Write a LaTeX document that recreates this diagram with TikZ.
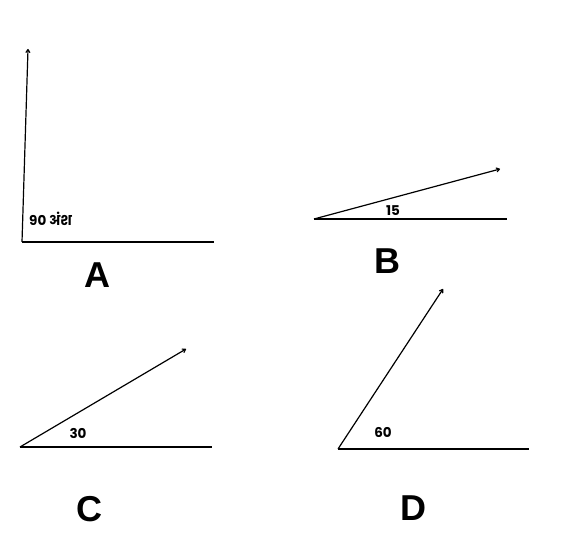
\documentclass[tikz,border=0pt]{standalone}
\usepackage{fontspec}
\setmainfont{Liberation Sans}
\newfontfamily\popb[Script=Devanagari,UprightFont=* Bold]{Poppins}
\usetikzlibrary{arrows.meta}
\begin{document}
\begin{tikzpicture}[x=1pt,y=-1pt,
  ray/.style={line width=1.2pt,-{To[length=4pt,width=5pt]}},
  base/.style={line width=1.3pt},
  lbl/.style={font=\popb\fontsize{13.5}{13.5}\selectfont,inner sep=0pt},
  big/.style={font=\fontsize{36}{36}\selectfont\bfseries,inner sep=0pt}]
\useasboundingbox (0,0) rectangle (584,548);
% A
\coordinate (Av) at (22,242);
\coordinate (Ah) at (214,242);
\coordinate (At) at (28,49);
\draw[base] (Av) -- (Ah);
\draw[ray] (Av) -- (At);
\node[lbl,anchor=west] (Al) at (29,219) {90 अंश};
\node[big] (A) at (97,275) {A};
% B
\coordinate (Bv) at (314,219);
\coordinate (Bh) at (507,219);
\coordinate (Bt) at (500,169);
\draw[base] (Bv) -- (Bh);
\draw[ray] (Bv) -- (Bt);
\node[lbl] (Bl) at (393,211) {15};
\node[big] (B) at (387,261) {B};
% C
\coordinate (Cv) at (20,447);
\coordinate (Ch) at (212,447);
\coordinate (Ct) at (186,349);
\draw[base] (Cv) -- (Ch);
\draw[ray] (Cv) -- (Ct);
\node[lbl] (Cl) at (78,433) {30};
\node[big] (C) at (89,509) {C};
% D
\coordinate (Dv) at (338,449);
\coordinate (Dh) at (529,449);
\coordinate (Dt) at (443,289);
\draw[base] (Dv) -- (Dh);
\draw[ray] (Dv) -- (Dt);
\node[lbl] (Dl) at (383,432) {60};
\node[big] (D) at (413,508) {D};
\end{tikzpicture}
\end{document}
